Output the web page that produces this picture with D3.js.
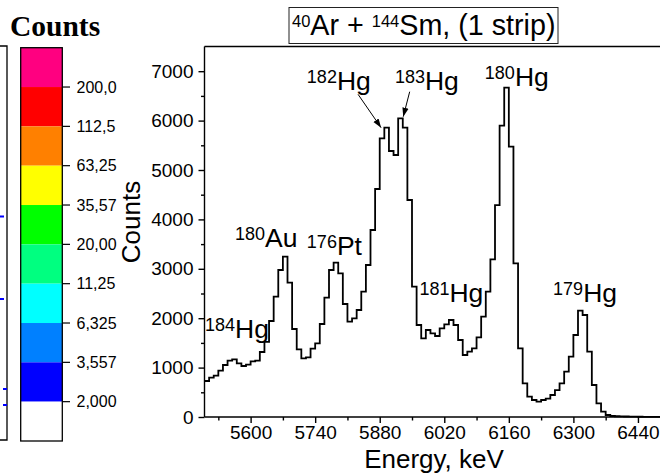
<!DOCTYPE html>
<html><head><meta charset="utf-8">
<script src="https://cdn.jsdelivr.net/npm/d3@7"></script>
<style>body{margin:0;background:#fff}svg{display:block}</style>
</head><body><svg id="c" width="660" height="475"></svg>
<script>
// ---- data ----
const counts = [729,796,836,937,1053,1140,1168,1087,1032,1059,1127,1140,1316,1520,1943,2436,2976,3245,2719,1781,
1370,1188,1208,1383,1491,1883,2416,2976,3124,2908,2287,1929,1998,2166,2537,3077,3785,4615,5641,5856,
5385,5304,6047,5856,4393,2638,1862,1593,1761,1694,1640,1795,1876,1964,1862,1559,1255,1322,1390,1613,
2031,2537,3192,4291,5897,6666,5472,3111,1390,682,411,344,310,344,370,445,546,682,917,1221,
1660,2152,2065,1322,648,277,107,40,20,15,12,10,8,6,5,4,3,3,2];
const binStartKeV = 5500, binWidthKeV = 10;
const xTicks = [5600,5740,5880,6020,6160,6300,6440];
const xMinorTicks = [5530,5670,5810,5950,6090,6230,6370];
const yTicks = [0,1000,2000,3000,4000,5000,6000,7000];
const yMinorTicks = [500,1500,2500,3500,4500,5500,6500];
const cbLabels = ["200,0","112,5","63,25","35,57","20,00","11,25","6,325","3,557","2,000"];
const cbColors = ["#FF0080","#FF0000","#FF8000","#FFFF00","#00FF00","#00FF80","#00FFFF","#0080FF","#0000FF","#FFFFFF"];
const isoLabels = [
  {mass:"184", sym:"Hg", e:5501, c:1593},
  {mass:"180", sym:"Au", e:5566, c:3441},
  {mass:"176", sym:"Pt", e:5722, c:3279},
  {mass:"182", sym:"Hg", e:5722, c:6619},
  {mass:"183", sym:"Hg", e:5913, c:6619},
  {mass:"180", sym:"Hg", e:6108, c:6700},
  {mass:"181", sym:"Hg", e:5966, c:2334},
  {mass:"179", sym:"Hg", e:6256, c:2334}
];
const arrows = [
  {e1:5833, c1:6532, e2:5883, c2:5856},
  {e1:5945, c1:6585, e2:5931, c2:6079}
];
const titleParts = [["40","Ar + "],["144","Sm, (1 strip)"]];

// ---- drawing ----
const svg = d3.select("#c");
const F = "'Liberation Sans', Arial, sans-serif";
const x = d3.scaleLinear().domain([5500,6490]).range([204.5,661]);
const y = d3.scaleLinear().domain([0,7500]).range([417,46.5]);

svg.append("defs").append("marker").attr("id","ah").attr("viewBox","0 0 10 10")
  .attr("refX",10).attr("refY",5).attr("markerWidth",9).attr("markerHeight",9)
  .attr("markerUnits","userSpaceOnUse").attr("orient","auto")
  .append("path").attr("d","M0,1.5 L10,5 L0,8.5 Z").attr("fill","#000");

// left fragment of neighbouring plot
svg.append("path").attr("d","M0,46 H7 V440 H0").attr("fill","none").attr("stroke","#000").attr("stroke-width",1.3);
[[0,216.5],[0,299],[3,389],[3,405]].forEach(d=>{
  svg.append("rect").attr("x",d[0]).attr("y",d[1]-1).attr("width",4).attr("height",2).attr("fill","#0000FF");
});

// colorbar
const cbY = d3.scaleLinear().domain([0,10]).range([47.7,441]);
const cb = svg.append("g");
cbColors.forEach((col,i)=>{
  cb.append("rect").attr("x",20.7).attr("y",cbY(i)).attr("width",41.6).attr("height",cbY(i+1)-cbY(i)).attr("fill",col);
});
cb.append("rect").attr("x",20.7).attr("y",47.7).attr("width",41.6).attr("height",441-47.7)
  .attr("fill","none").attr("stroke","#000").attr("stroke-width",1.3);
cbLabels.forEach((t,i)=>{
  const yy = cbY(i+1);
  cb.append("line").attr("x1",62.3).attr("x2",70).attr("y1",yy).attr("y2",yy).attr("stroke","#000").attr("stroke-width",1.2);
  cb.append("text").attr("x",76.5).attr("y",yy).attr("dy","0.36em").attr("font-family",F).attr("font-size",16).text(t);
});
svg.append("text").attr("x",10).attr("y",36).attr("font-family","'Liberation Serif','Times New Roman',serif")
  .attr("font-weight","bold").attr("font-size",29.5).text("Counts");

// frame top
svg.append("line").attr("x1",204.5).attr("x2",662).attr("y1",46.5).attr("y2",46.5).attr("stroke","#000").attr("stroke-width",1.5);

// axes
const xAxis = svg.append("g").attr("transform","translate(0,417)");
xAxis.call(d3.axisBottom(x).tickValues(xTicks).tickSize(6).tickPadding(3).tickFormat(d3.format("d")));
const xMinor = svg.append("g").attr("transform","translate(0,417)");
xMinor.call(d3.axisBottom(x).tickValues(xMinorTicks).tickSize(3.5).tickFormat(""));
xMinor.select(".domain").remove();
const yAxis = svg.append("g").attr("transform","translate(204.5,0)");
yAxis.call(d3.axisLeft(y).tickValues(yTicks).tickSize(6).tickPadding(5).tickFormat(d3.format("d")));
const yMinor = svg.append("g").attr("transform","translate(204.5,0)");
yMinor.call(d3.axisLeft(y).tickValues(yMinorTicks).tickSize(3.5).tickFormat(""));
yMinor.select(".domain").remove();
[xAxis,yAxis,xMinor,yMinor].forEach(g=>{
  g.selectAll("path,line").attr("stroke","#000").attr("stroke-width",1.4);
  g.selectAll("text").attr("font-family",F).attr("font-size",19).attr("fill","#000");
});
xAxis.select(".domain").attr("d","M204.5,0H662");
yAxis.select(".domain").attr("d","M0,46.5V417");

// histogram
const pts = counts.map((c,i)=>[binStartKeV+i*binWidthKeV, c]);
pts.push([binStartKeV+counts.length*binWidthKeV, counts[counts.length-1]]);
svg.append("path").datum(pts)
  .attr("d", d3.line().x(d=>x(d[0])).y(d=>y(d[1])).curve(d3.curveStepAfter))
  .attr("fill","none").attr("stroke","#000").attr("stroke-width",1.8);

// axis titles
svg.append("text").attr("x",434).attr("y",468).attr("text-anchor","middle")
  .attr("font-family",F).attr("font-size",26).text("Energy, keV");
svg.append("text").attr("transform","translate(140,222) rotate(-90)").attr("text-anchor","middle")
  .attr("font-family",F).attr("font-size",26).text("Counts");

// title box
svg.append("rect").attr("x",289).attr("y",7.5).attr("width",269).attr("height",36)
  .attr("fill","#fff").attr("stroke","#222").attr("stroke-width",1);
const tt = svg.append("text").attr("x",292).attr("y",35).attr("font-family",F);
titleParts.forEach(p=>{
  tt.append("tspan").attr("font-size",16.5).attr("dy",-8.3).text(p[0]);
  tt.append("tspan").attr("font-size",28.7).attr("dy",8.3).text(p[1]);
});

// isotope labels
isoLabels.forEach(d=>{
  const t = svg.append("text").attr("x",x(d.e)).attr("y",y(d.c)).attr("font-family",F);
  t.append("tspan").attr("font-size",18).attr("dy",-7).text(d.mass);
  t.append("tspan").attr("font-size",26.5).attr("dy",7).text(d.sym);
});
arrows.forEach(a=>{
  svg.append("line").attr("x1",x(a.e1)).attr("y1",y(a.c1)).attr("x2",x(a.e2)).attr("y2",y(a.c2))
    .attr("stroke","#000").attr("stroke-width",1).attr("marker-end","url(#ah)");
});
</script></body></html>
